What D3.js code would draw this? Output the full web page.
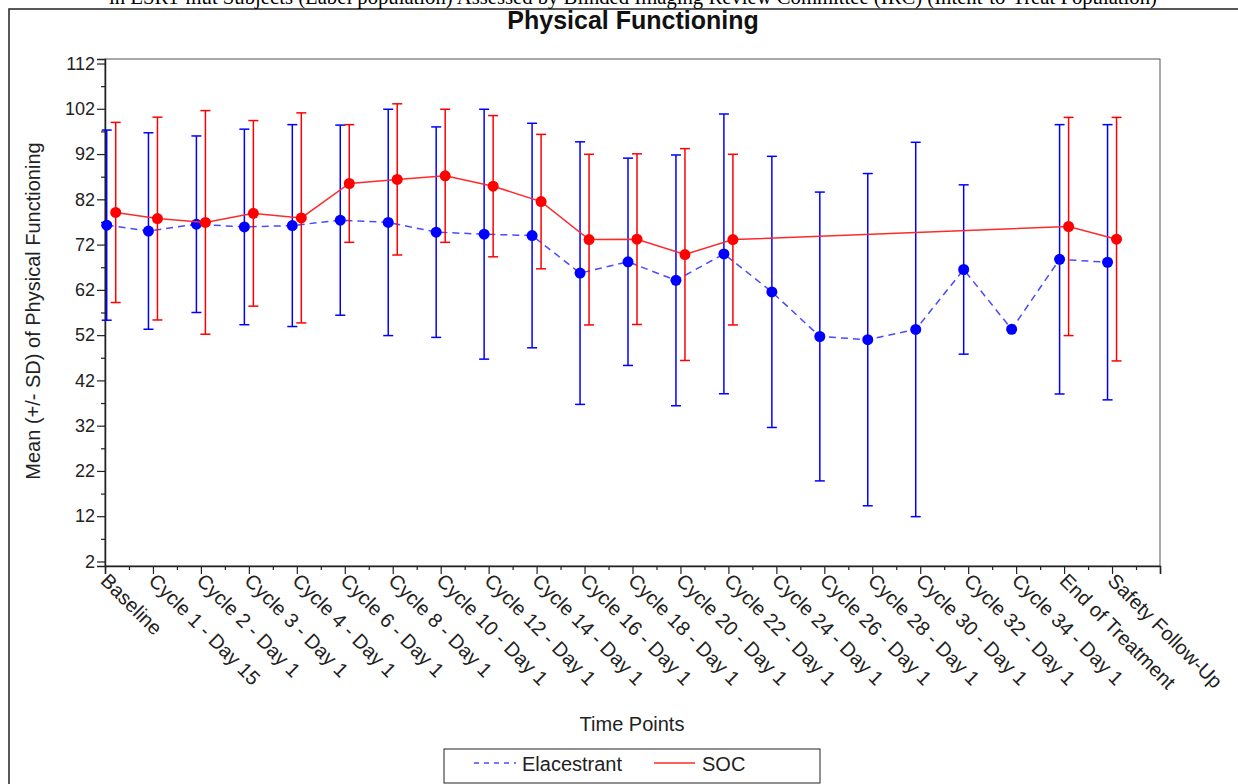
<!DOCTYPE html>
<html>
<head>
<meta charset="utf-8">
<script src="https://cdn.jsdelivr.net/npm/d3@7"></script>
<style>
  body { margin: 0; background: #fff; }
  text { font-family: "Liberation Sans", Arial, sans-serif; fill: #222; }
</style>
</head>
<body>
<svg id="chart" width="1238" height="784"></svg>
<script>
// Time points on the x axis
var time_points = ['Baseline', 'Cycle 1 - Day 15', 'Cycle 2 - Day 1', 'Cycle 3 - Day 1', 'Cycle 4 - Day 1',
    'Cycle 6 - Day 1', 'Cycle 8 - Day 1', 'Cycle 10 - Day 1', 'Cycle 12 - Day 1', 'Cycle 14 - Day 1',
    'Cycle 16 - Day 1', 'Cycle 18 - Day 1', 'Cycle 20 - Day 1', 'Cycle 22 - Day 1', 'Cycle 24 - Day 1',
    'Cycle 26 - Day 1', 'Cycle 28 - Day 1', 'Cycle 30 - Day 1', 'Cycle 32 - Day 1', 'Cycle 34 - Day 1',
    'End of Treatment', 'Safety Follow-Up'];
// Elacestrant: mean and SD (null = not available)
var elac_mean = [76.3, 75.0, 76.5, 75.9, 76.2, 77.4, 76.9, 74.75, 74.3, 74.0, 65.7, 68.2, 64.1, 69.95,
    61.55, 51.7, 51.0, 53.25, 66.5, 53.3, 68.75, 68.1];
var elac_sd = [21.0, 21.7, 19.5, 21.6, 22.3, 21.0, 25.0, 23.25, 27.6, 24.8, 29.0, 22.9, 27.7, 30.9,
    29.95, 31.9, 36.7, 41.35, 18.7, null, 29.75, 30.4];
// SOC: mean and SD
var soc_mean = [79.1, 77.75, 76.9, 78.9, 77.9, 85.5, 86.4, 87.2, 84.9, 81.5, 73.1, 73.2, 69.8, 73.1,
    null, null, null, null, null, null, 76.0, 73.2];
var soc_sd = [19.9, 22.4, 24.7, 20.5, 23.2, 13.0, 16.7, 14.7, 15.6, 14.85, 18.85, 18.85, 23.4, 18.85,
    null, null, null, null, null, null, 24.1, 26.9];
var y_ticks = [2, 12, 22, 32, 42, 52, 62, 72, 82, 92, 102, 112];

var svg = d3.select('#chart');
// note: "top" clashes with window.top, so plot_* names
var plot_left = 105, plot_right = 1160, plot_top = 59, plot_bottom = 566;

var x = d3.scaleLinear().domain([0, time_points.length]).range([plot_left, plot_right]);
var y = d3.scaleLinear().domain([1, 113]).range([plot_bottom, plot_top]);
var half_gap = 4.5;

// Cluster centre, kept inside the axis for the first time point
function centre(i) {
    return Math.max(x(i), plot_left + half_gap + 1.7);
}

// Outer frame and clipped header line
svg.append('rect').attr('x', 9).attr('y', 9).attr('width', 1240).attr('height', 800)
    .attr('fill', 'none').attr('stroke', '#222').attr('stroke-width', 1.5);
svg.append('text').attr('x', 633).attr('y', 4).attr('text-anchor', 'middle')
    .style('font-family', '"Liberation Serif", "Times New Roman", serif').style('font-size', '20.7px')
    .style('fill', '#000')
    .text('in ESR1-mut Subjects (Label population) Assessed by Blinded Imaging Review Committee (IRC) (Intent-to-Treat Population)');

svg.append('text').attr('x', 633).attr('y', 29).attr('text-anchor', 'middle')
    .style('font-size', '25px').style('font-weight', 'bold').style('fill', '#111')
    .text('Physical Functioning');

// Plot frame
svg.append('rect').attr('x', plot_left).attr('y', plot_top)
    .attr('width', plot_right - plot_left).attr('height', plot_bottom - plot_top)
    .attr('fill', 'none').attr('stroke', '#555').attr('stroke-width', 1);

// Y axis
var y_axis = svg.append('g').attr('transform', 'translate(' + plot_left + ',0)')
    .call(d3.axisLeft(y).tickValues(y_ticks).tickSize(8).tickPadding(2));
svg.append('g').attr('transform', 'translate(' + plot_left + ',0)')
    .call(d3.axisLeft(y).tickValues(y_ticks.slice(0, -1).map(function (v) { return v + 5; }))
        .tickSize(4).tickFormat(''))
    .select('.domain').remove();

// X axis
var x_axis = svg.append('g').attr('transform', 'translate(0,' + plot_bottom + ')')
    .call(d3.axisBottom(x).tickValues(d3.range(time_points.length + 1)).tickSize(8)
        .tickFormat(function (i) { return time_points[i] || ''; }));
svg.append('g').attr('transform', 'translate(0,' + plot_bottom + ')')
    .call(d3.axisBottom(x).tickValues(d3.range(time_points.length).map(function (i) { return i + 0.5; }))
        .tickSize(4).tickFormat(''))
    .select('.domain').remove();

svg.selectAll('.domain').attr('stroke', '#222').attr('stroke-width', 1.5);
svg.selectAll('.tick line').attr('stroke', '#222').attr('stroke-width', 1.2);
y_axis.selectAll('text').style('font-size', '18px').style('font-family', '"Liberation Sans", Arial, sans-serif')
    .attr('fill', '#222');
x_axis.selectAll('text')
    .style('font-size', '20px').style('font-family', '"Liberation Sans", Arial, sans-serif')
    .attr('fill', '#222')
    .attr('text-anchor', 'start')
    .attr('y', 0).attr('dy', 0)
    .attr('transform', 'translate(-6,16) rotate(45)');

// Axis titles
svg.append('text').attr('transform', 'translate(40,311) rotate(-90)').attr('text-anchor', 'middle')
    .style('font-size', '20px').text('Mean (+/- SD) of Physical Functioning');
svg.append('text').attr('x', 632).attr('y', 731).attr('text-anchor', 'middle')
    .style('font-size', '20px').text('Time Points');

// Series drawing
function draw_series(mean, sd, offset, colour, line_colour, dash) {
    var g = svg.append('g');
    var pts = mean.map(function (m, i) { return { i: i, m: m, sd: sd[i] }; })
        .filter(function (d) { return d.m !== null; });
    var px = function (d) { return centre(d.i) + offset; };
    g.append('path').datum(pts)
        .attr('d', d3.line().x(px).y(function (d) { return y(d.m); }))
        .attr('fill', 'none').attr('stroke', line_colour).attr('stroke-width', 1.5)
        .attr('stroke-dasharray', dash);
    var bars = g.selectAll('.bar').data(pts.filter(function (d) { return d.sd !== null; }))
        .enter().append('g').attr('stroke', colour).attr('stroke-width', 1.5);
    bars.append('line').attr('x1', px).attr('x2', px)
        .attr('y1', function (d) { return y(d.m + d.sd); }).attr('y2', function (d) { return y(d.m - d.sd); });
    bars.append('line').attr('x1', function (d) { return px(d) - 5; }).attr('x2', function (d) { return px(d) + 5; })
        .attr('y1', function (d) { return y(d.m + d.sd); }).attr('y2', function (d) { return y(d.m + d.sd); });
    bars.append('line').attr('x1', function (d) { return px(d) - 5; }).attr('x2', function (d) { return px(d) + 5; })
        .attr('y1', function (d) { return y(d.m - d.sd); }).attr('y2', function (d) { return y(d.m - d.sd); });
    g.selectAll('circle').data(pts).enter().append('circle')
        .attr('cx', px).attr('cy', function (d) { return y(d.m); }).attr('r', 5.5)
        .attr('fill', colour);
}
draw_series(elac_mean, elac_sd, -half_gap, '#0000ff', '#4a4aff', '7,5');
draw_series(soc_mean, soc_sd, half_gap, '#ff0000', '#ff2a2a', null);

// Legend
var legend = svg.append('g');
legend.append('rect').attr('x', 444).attr('y', 749).attr('width', 376).attr('height', 34)
    .attr('fill', '#fff').attr('stroke', '#222').attr('stroke-width', 1);
legend.append('line').attr('x1', 474).attr('x2', 516).attr('y1', 763).attr('y2', 763)
    .attr('stroke', '#4a4aff').attr('stroke-width', 1.5).attr('stroke-dasharray', '5,5');
legend.append('text').attr('x', 522).attr('y', 771).style('font-size', '20px').text('Elacestrant');
legend.append('line').attr('x1', 654).attr('x2', 695).attr('y1', 763).attr('y2', 763)
    .attr('stroke', '#ff2a2a').attr('stroke-width', 1.5);
legend.append('text').attr('x', 702).attr('y', 771).style('font-size', '20px').text('SOC');
</script>
</body>
</html>
